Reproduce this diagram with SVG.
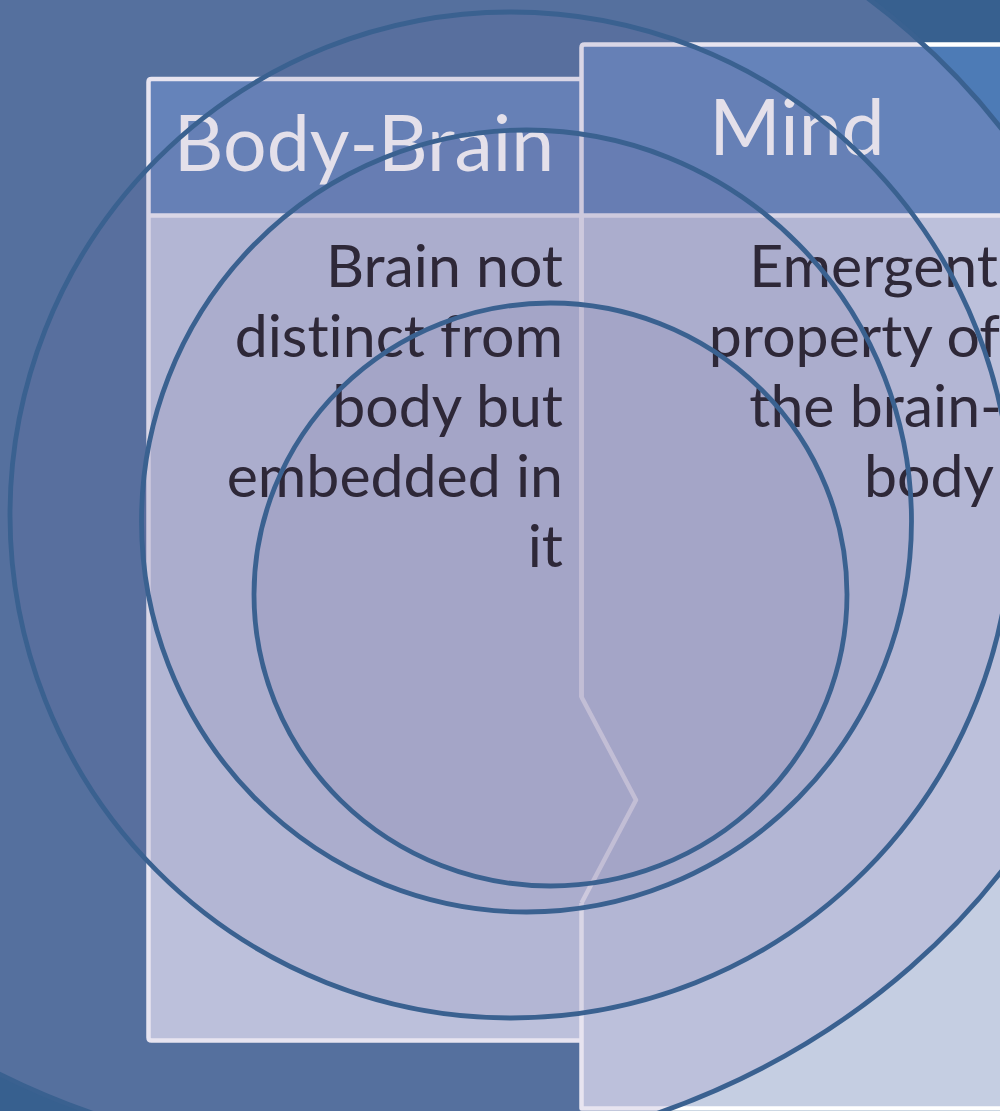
<svg xmlns="http://www.w3.org/2000/svg" width="1000" height="1111" viewBox="0 0 1000 1111">
<defs>
<style>
.hdr{font-family:Lato,"Liberation Sans",sans-serif;font-size:77px;fill:#e4e0ea;text-anchor:middle;font-variant-ligatures:none}
.txt{font-family:Lato,"Liberation Sans",sans-serif;font-size:59px;fill:#2e2838;text-anchor:end;font-variant-ligatures:none}
.ring{fill:none;stroke:#3a6190;stroke-width:4.8}
.tint{fill:#706a9e;fill-opacity:0.115}
.halo{fill:#a89cc6;fill-opacity:0.27}
.head{fill:#4d7bb6}
.body{fill:#c5cee2}
.border{fill:none;stroke:#ffffff;stroke-width:4.5;stroke-linejoin:round}
</style>
</defs>
<rect x="0" y="0" width="1000" height="1111" fill="#37608f"/>
<g id="panel-body-brain">
<rect class="head" x="148.5" y="79" width="433" height="136.5"/>
<rect class="body" x="148.5" y="215.5" width="436" height="825"/>
<path class="border" d="M581.5,79 H151.5 Q148.5,79 148.5,82 V1037.5 Q148.5,1040.5 151.5,1040.5 H581.5"/>
</g>
<g id="panel-mind">
<rect class="head" x="581.5" y="44.5" width="432" height="171"/>
<rect class="body" x="583" y="215.5" width="430.5" height="893"/>
<path class="border" d="M581.5,697 V47.5 Q581.5,44.5 584.5,44.5 H1013 V1108.5 H581.5 V903"/>
</g>
<g id="connectors">
<path class="border" d="M148.5,215.5 H1013"/>
<path class="border" d="M581.5,215.5 V697 L636,800 L581.5,903"/>
</g>
<g id="overlays">
<ellipse class="halo" cx="375" cy="500" rx="757" ry="661"/>
<ellipse class="tint" cx="511" cy="515" rx="501" ry="503"/>
<ellipse class="tint" cx="526.5" cy="521" rx="385" ry="391"/>
<ellipse class="tint" cx="550.5" cy="594.5" rx="296.5" ry="291.5"/>
</g>
<g id="text-body-brain">
<text class="hdr" x="364" y="171">Body-Brain</text>
<text class="txt" x="563" y="287">Brain not</text>
<text class="txt" x="563" y="357">distinct from</text>
<text class="txt" x="563" y="427">body but</text>
<text class="txt" x="563" y="497">embedded in</text>
<text class="txt" x="563" y="567">it</text>
</g>
<g id="text-mind">
<text class="hdr" x="797" y="155">Mind</text>
<text class="txt" x="998" y="287">Emergent</text>
<text class="txt" x="1000" y="357">property of</text>
<text class="txt" x="1002" y="427">the brain-</text>
<text class="txt" x="994" y="497">body</text>
</g>
<g id="rings">
<ellipse class="ring" cx="375" cy="500" rx="757" ry="661"/>
<ellipse class="ring" cx="511" cy="515" rx="501" ry="503"/>
<ellipse class="ring" cx="526.5" cy="521" rx="385" ry="391"/>
<ellipse class="ring" cx="550.5" cy="594.5" rx="296.5" ry="291.5"/>
</g>
</svg>
